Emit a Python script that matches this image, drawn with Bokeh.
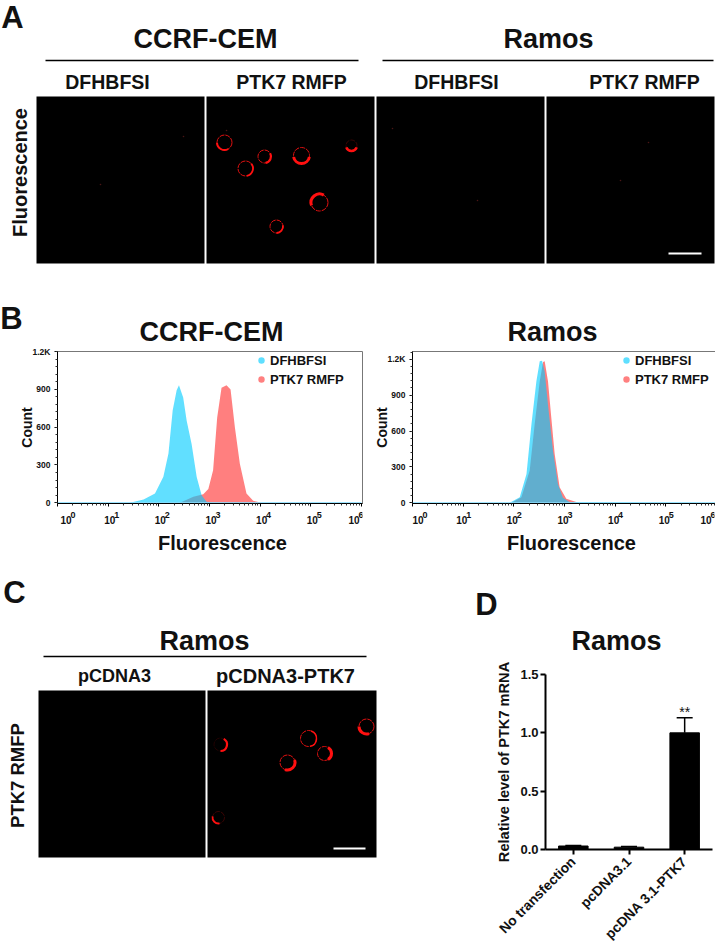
from bokeh.plotting import figure
from bokeh.layouts import column, row
from bokeh.embed import file_html
from bokeh.resources import INLINE
from bokeh.models import Range1d, FactorRange, FixedTicker, Label, Legend, LegendItem, Whisker, ColumnDataSource, TeeHead, NumeralTickFormatter
from bokeh.core.properties import value

FONT = "Liberation Sans"

# ---- data ----
decades = [1, 10, 100, 1000, 10000, 100000, 1000000]
decade_base = ["10"] * 7
decade_exp = ["0", "1", "2", "3", "4", "5", "6"]
count_ticks = [0, 300, 600, 900, 1200]
count_labels = ["0", "300", "600", "900", "1.2K"]

cem_dfhbfsi_x = [1, 27, 50, 84, 123, 155, 188, 225, 250, 303, 355, 445, 560, 700, 875, 1180, 1000000]
cem_dfhbfsi_y = [0, 0, 26, 74, 206, 391, 734, 892, 933, 835, 650, 465, 205, 60, 8, 0, 0]
cem_rmfp_x = [1, 262, 480, 755, 950, 1180, 1420, 1730, 2170, 2610, 3180, 3980, 5380, 7300, 10600, 1000000]
cem_rmfp_y = [0, 0, 47, 68, 110, 257, 676, 912, 933, 899, 597, 309, 73, 16, 0, 0]

ramos_dfhbfsi_x = [1, 83, 131, 178, 223, 279, 325, 361, 407, 473, 594, 743, 934, 1260, 1000000]
ramos_dfhbfsi_y = [0, 0, 47, 241, 656, 1016, 1183, 1188, 1097, 820, 436, 158, 42, 6, 0]
ramos_rmfp_x = [1, 90, 141, 206, 258, 325, 378, 407, 473, 550, 641, 803, 1086, 1710, 1995, 1000000]
ramos_rmfp_y = [0, 0, 47, 269, 656, 1016, 1177, 1183, 1016, 712, 407, 130, 33, 6, 0, 0]

qpcr_groups = ["No transfection", "pcDNA3.1", "pcDNA 3.1-PTK7"]
qpcr_values = [0.03, 0.02, 1.0]
qpcr_errors = [0.005, 0.005, 0.13]

a_cell_x = [224, 245, 264, 301, 351, 319, 276]
a_cell_y = [142, 168, 156, 155, 145, 202, 226]
a_cell_r = [7.5, 7.5, 6.5, 8, 5.5, 8.5, 6.5]
a_ring_alpha = [1, 1, 1, 1, 0.25, 1, 1]
a_arc_from = [180, 280, 280, 190, 200, 60, 270]
a_arc_to = [300, 40, 30, 350, 340, 200, 10]
a_arc_width = [2.0, 1.8, 2.2, 3.0, 2.6, 3.0, 1.8]
a_speck_x = [183, 100, 477, 648, 392, 226, 620]
a_speck_y = [136, 184, 200, 142, 128, 130, 180]

c_cell_x = [220, 287, 308, 324, 366, 218]
c_cell_y = [744, 762, 738, 753, 726, 817]
c_cell_r = [6.5, 7.5, 8, 7, 7.5, 6]
c_ring_alpha = [0.15, 1, 1, 1, 1, 0.25]
c_arc_from = [270, 250, 280, 300, 180, 170]
c_arc_to = [60, 20, 70, 60, 290, 280]
c_arc_width = [2.2, 3.0, 1.5, 3.0, 3.0, 1.8]

RED = "#e01010"
TXT = "#111111"
TICK_DX = [3, -4, -4, -4, -4, -4, -13]


def blank(w, h, x0, y0):
    p = figure(width=w, height=h, x_range=Range1d(x0, x0 + w), y_range=Range1d(y0 + h, y0),
               output_backend="svg", toolbar_location=None, min_border=0)
    p.axis.visible = False
    p.grid.visible = False
    p.outline_line_color = None
    return p


def txt(p, s, x, y, size, angle=0, align="center", base="middle", color=TXT, style="bold"):
    p.add_layout(Label(x=x, y=y, text=s, text_font=FONT, text_font_size=f"{size}px",
                       text_font_style=style, text_align=align, text_baseline=base,
                       text_color=color, angle=angle, angle_units="deg"))


def panels(p, lefts, rights, top, bottom):
    p.quad(left=lefts, right=rights, top=[top] * len(lefts), bottom=[bottom] * len(lefts),
           fill_color="black", line_color=None)


def cells(p, xs, ys, rs, ring_alpha, a0, a1, widths):
    p.circle(xs, ys, radius=rs, fill_color=None, line_color=RED, line_alpha=ring_alpha,
             line_width=1.0, line_dash="5 1")
    for i in range(len(xs)):
        p.arc([xs[i]], [ys[i]], radius=rs[i], start_angle=a0[i], end_angle=a1[i],
              start_angle_units="deg", end_angle_units="deg", line_color="#ff1010",
              line_width=widths[i])


# ---- panel A + headings of panel B ----
fa = blank(715, 345, 0, 0)
txt(fa, "A", 12, 17, 31)
txt(fa, "CCRF-CEM", 205, 38, 27)
txt(fa, "Ramos", 548, 38, 27)
fa.segment([45, 382], [60, 60], [358, 713], [60, 60], line_color="black", line_width=1.5)
txt(fa, "DFHBFSI", 107, 81, 19.5)
txt(fa, "PTK7 RMFP", 291, 81, 19.5)
txt(fa, "DFHBFSI", 456, 81, 19.5)
txt(fa, "PTK7 RMFP", 644, 81, 19.5)
panels(fa, [36, 206, 376, 546], [204, 374, 544, 714], 96, 263)
txt(fa, "Fluorescence", 19, 172, 20, angle=90)
fa.scatter(a_speck_x, a_speck_y, size=1.6, color="#4a1515", line_color=None)
cells(fa, a_cell_x, a_cell_y, a_cell_r, a_ring_alpha, a_arc_from, a_arc_to, a_arc_width)
fa.segment([668], [253], [701], [253], line_color="white", line_width=2.2)
txt(fa, "B", 11, 318, 31)
txt(fa, "CCRF-CEM", 211, 331, 27)
txt(fa, "Ramos", 552, 331, 27)


# ---- panel B ----
def flow(xb, yb, xr, yr, top, left_border, right_border, frame_w, legend_x):
    p = figure(x_axis_type="log", x_range=Range1d(1, 1.05e6), y_range=Range1d(-6, top),
               frame_width=frame_w, frame_height=152, min_border_left=left_border,
               min_border_right=right_border,
               min_border_top=6, min_border_bottom=4,
               output_backend="svg", toolbar_location=None)
    p.grid.visible = False
    p.outline_line_color = "#777777"
    p.outline_line_width = 1
    p.varea(xr, [0] * len(xr), yr, fill_color="#ff0000", fill_alpha=0.5)
    p.varea(xb, [0] * len(xb), yb, fill_color="#00cbff", fill_alpha=0.62)
    p.line(decades, [0] * 7, line_color="#7fdcff", line_width=1)

    xa = p.xaxis[0]
    xa.ticker = FixedTicker(ticks=decades,
                            minor_ticks=[m * d for d in decades[:-1] for m in range(2, 10)])
    xa.major_label_overrides = {d: "" for d in decades}
    xa.major_label_text_font_size = "1px"
    xa.major_label_standoff = 0
    ya = p.yaxis[0]
    ya.ticker = FixedTicker(ticks=count_ticks, minor_ticks=list(range(0, 1300, 60)))
    ya.major_label_overrides = dict(zip(count_ticks, count_labels))
    ya.axis_label = "Count"
    ya.axis_label_text_font = FONT
    ya.axis_label_text_font_style = "bold"
    ya.axis_label_text_font_size = "14px"
    ya.axis_label_text_color = TXT
    ya.axis_label_standoff = -5
    ya.major_label_standoff = 4
    ya.major_label_text_font = FONT
    ya.major_label_text_font_style = "bold"
    ya.major_label_text_color = TXT
    ya.major_label_text_font_size = "8.5px"
    for a in (xa, ya):
        a.axis_line_color = "black"
        a.axis_line_width = 1
        a.major_tick_line_color = "black"
        a.minor_tick_line_color = "#333333"
        a.major_tick_in = 0
        a.minor_tick_in = 0
        a.major_tick_out = 3
        a.minor_tick_out = 2

    d1 = p.scatter([float("nan")], [1], marker="circle", size=7, fill_color="#5fdfff", line_color=None)
    d2 = p.scatter([float("nan")], [1], marker="circle", size=7, fill_color="#ff8080", line_color=None)
    lg = Legend(items=[LegendItem(label="DFHBFSI", renderers=[d1]),
                       LegendItem(label="PTK7 RMFP", renderers=[d2])],
                location=(legend_x, 115), background_fill_alpha=0, border_line_color=None,
                label_text_font=FONT, label_text_font_style="bold", label_text_font_size="13px",
                label_text_color=TXT, glyph_width=16, glyph_height=18, label_standoff=1,
                spacing=1, padding=0, margin=0)
    p.add_layout(lg)
    return p


def flow_labels(left_border, right_border, frame_w, title_dx):
    # strip under a histogram: same logarithmic x scale, holds tick labels and the axis title
    p = figure(x_axis_type="log", x_range=Range1d(1, 1.05e6), y_range=Range1d(58, 0),
               frame_width=frame_w, frame_height=58, min_border_left=left_border,
               min_border_right=right_border, min_border_top=0, min_border_bottom=0,
               output_backend="svg", toolbar_location=None)
    p.xaxis.visible = False
    p.yaxis.visible = False
    p.grid.visible = False
    p.outline_line_color = None
    src = ColumnDataSource(dict(x=decades, base=decade_base, exp=decade_exp,
                                y0=[12] * 7, y1=[7] * 7, dx=TICK_DX,
                                ex=[d + 10 for d in TICK_DX]))
    p.text(x="x", y="y0", text="base", x_offset="dx", source=src, text_font=value(FONT),
           text_font_style="bold", text_font_size="10px", text_color=TXT,
           text_align="left", text_baseline="middle")
    p.text(x="x", y="y1", text="exp", x_offset="ex", source=src, text_font=value(FONT),
           text_font_style="bold", text_font_size="9px", text_color=TXT,
           text_align="left", text_baseline="middle")
    p.text(x=[1000], y=[35], text=["Fluorescence"], x_offset=title_dx, text_font=value(FONT),
           text_font_style="bold", text_font_size="20px", text_color=TXT,
           text_align="center", text_baseline="middle")
    return p


fb1 = flow(cem_dfhbfsi_x, cem_dfhbfsi_y, cem_rmfp_x, cem_rmfp_y, 1200, 57, 8, 305, 196)
fb2 = flow(ramos_dfhbfsi_x, ramos_dfhbfsi_y, ramos_rmfp_x, ramos_rmfp_y, 1265, 39, 1, 305, 206)
sb1 = flow_labels(57, 8, 305, 13)
sb2 = flow_labels(39, 1, 305, 10)

# ---- headings of panels C and D ----
fs = blank(715, 95, 0, 565)
txt(fs, "C", 14, 592, 31)
txt(fs, "D", 486, 604, 31)
txt(fs, "Ramos", 204, 640, 27)
txt(fs, "Ramos", 616, 640, 27)
fs.segment([43], [656], [366], [656], line_color="black", line_width=1.5)

# ---- panel C ----
fc = blank(470, 285, 0, 660)
txt(fc, "pCDNA3", 114, 675, 18)
txt(fc, "pCDNA3-PTK7", 285, 675, 20)
panels(fc, [38, 207], [205, 376], 690, 857)
txt(fc, "PTK7 RMFP", 17, 775, 18.5, angle=90)
cells(fc, c_cell_x, c_cell_y, c_cell_r, c_ring_alpha, c_arc_from, c_arc_to, c_arc_width)
fc.segment([333], [848], [365], [848], line_color="white", line_width=2.2)

# ---- panel D ----
fd = figure(x_range=FactorRange(*qpcr_groups, factor_padding=0, range_padding=0, group_padding=0),
            y_range=Range1d(0, 1.5), frame_width=167, frame_height=175,
            min_border_left=75, min_border_right=3, min_border_top=14, min_border_bottom=96,
            output_backend="svg", toolbar_location=None)
fd.grid.visible = False
fd.outline_line_color = None
src = ColumnDataSource(dict(g=qpcr_groups, v=qpcr_values,
                            lo=qpcr_values,
                            up=[a + b for a, b in zip(qpcr_values, qpcr_errors)]))
fd.add_layout(Whisker(base="g", lower="lo", upper="up", source=src, line_color="black",
                      line_width=1.5, upper_head=TeeHead(size=16, line_color="black", line_width=1.5),
                      lower_head=None))
fd.vbar(x="g", top="v", source=src, width=0.53, fill_color="black", line_color="black")
fd.text(x=[qpcr_groups[2]], y=[qpcr_values[2] + qpcr_errors[2]], text=["**"], text_font=value(FONT),
        text_font_size="14px", text_align="center", text_baseline="bottom", y_offset=2, text_color=TXT)
ya = fd.yaxis[0]
ya.ticker = FixedTicker(ticks=[0, 0.5, 1.0, 1.5])
ya.formatter = NumeralTickFormatter(format="0.0")
ya.axis_label = "Relative level of PTK7 mRNA"
ya.axis_label_text_font = FONT
ya.axis_label_text_font_style = "bold"
ya.axis_label_text_font_size = "14.6px"
ya.axis_label_text_color = TXT
ya.axis_label_standoff = 5
ya.major_label_standoff = 2
xa = fd.xaxis[0]
xa.major_label_orientation = 0.785
for a in (xa, ya):
    a.major_label_text_font = FONT
    a.major_label_text_font_style = "bold"
    a.major_label_text_color = TXT
    a.axis_line_color = "black"
    a.axis_line_width = 2
    a.major_tick_line_color = "black"
    a.major_tick_line_width = 2
    a.minor_tick_line_color = None
    a.major_tick_in = 0
    a.major_tick_out = 5
ya.major_label_text_font_size = "13px"
xa.major_label_text_font_size = "13.8px"
xa.major_label_standoff = 5

page = column(fa, row(fb1, fb2, spacing=0), row(sb1, sb2, spacing=0), fs,
              row(column(fc), column(fd), spacing=0), spacing=0)
open("out.html", "w").write(file_html(page, INLINE))
